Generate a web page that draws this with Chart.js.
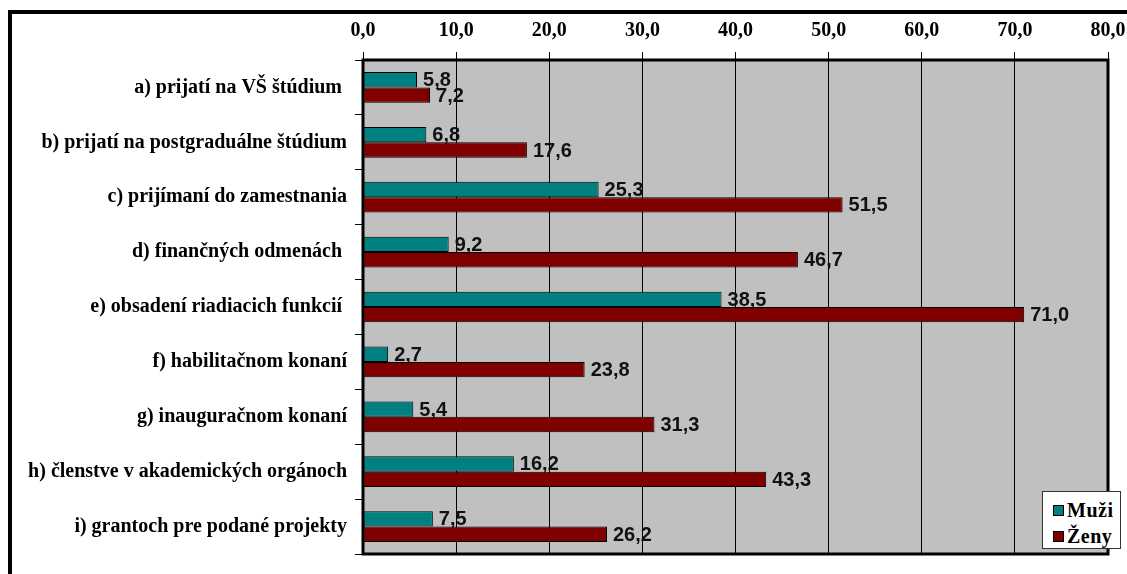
<!DOCTYPE html>
<html>
<head>
<meta charset="utf-8">
<script src="https://cdn.jsdelivr.net/npm/chart.js@4/dist/chart.umd.min.js"></script>
<style>
  body { margin: 0; background: #fff; overflow: hidden; }
  #frame { position: absolute; left: 8px; top: 10px; width: 1200px; height: 700px;
           border-top: 4px solid #000; border-left: 4px solid #000; }
  #wrap { position: absolute; left: 0; top: 0; width: 1127px; height: 574px; }
  #legend { position: absolute; left: 1042px; top: 491px; width: 79px; height: 58px;
            background: #fff; border: 1px solid #333;
            font: bold 20px "Liberation Serif", serif; padding: 5px 0 0 10px; box-sizing: border-box; }
  #legend div { height: 26px; line-height: 26px; white-space: nowrap; letter-spacing: 0.5px; }
  #legend span { display: inline-block; width: 9px; height: 9px; border: 1px solid #000; margin-right: 3px; vertical-align: 1px; }
</style>
</head>
<body>
<div id="frame"></div>
<div id="wrap"><canvas id="chart"></canvas></div>
<div id="legend"></div>
<script>
var categories = [
    'a) prijatí na VŠ štúdium ',
    'b) prijatí na postgraduálne štúdium',
    'c) prijímaní do zamestnania',
    'd) finančných odmenách ',
    'e) obsadení riadiacich funkcií ',
    'f) habilitačnom konaní',
    'g) inauguračnom konaní',
    'h) členstve v akademických orgánoch',
    'i) grantoch pre podané projekty'
];
var muzi = [5.8, 6.8, 25.3, 9.2, 38.5, 2.7, 5.4, 16.2, 7.5];
var zeny = [7.2, 17.6, 51.5, 46.7, 71.0, 23.8, 31.3, 43.3, 26.2];
var seriesNames = ['Muži', 'Ženy'];
var seriesColors = ['#008080', '#800000'];

function fmt(v) {
    return v.toFixed(1).replace('.', ',');
}

// pozadie a hrubý rámik plochy grafu
var plotBox = {
    id: 'plotBox',
    beforeDraw: function(chart) {
        var a = chart.chartArea, ctx = chart.ctx;
        ctx.save();
        ctx.fillStyle = '#c0c0c0';
        ctx.fillRect(a.left, a.top, a.right - a.left, a.bottom - a.top);
        ctx.restore();
    },
    afterDraw: function(chart) {
        var a = chart.chartArea, ctx = chart.ctx;
        ctx.save();
        ctx.strokeStyle = '#000';
        ctx.lineWidth = 3;
        ctx.strokeRect(a.left, a.top, a.right - a.left, a.bottom - a.top);
        ctx.restore();
    }
};

// hodnoty pri stĺpcoch
var valueLabels = {
    id: 'valueLabels',
    afterDatasetsDraw: function(chart) {
        var ctx = chart.ctx;
        ctx.save();
        ctx.font = 'bold 20px "Liberation Sans", Arial, sans-serif';
        ctx.fillStyle = '#111';
        ctx.textBaseline = 'middle';
        ctx.textAlign = 'left';
        chart.data.datasets.forEach(function(ds, i) {
            chart.getDatasetMeta(i).data.forEach(function(bar, j) {
                ctx.fillText(fmt(ds.data[j]), bar.x + 6, bar.y + 1);
            });
        });
        ctx.restore();
    }
};

var chart = new Chart(document.getElementById('chart'), {
    type: 'bar',
    data: {
        labels: categories,
        datasets: [
            { label: seriesNames[0], data: muzi, backgroundColor: seriesColors[0], borderColor: '#000', borderWidth: 1, borderSkipped: false },
            { label: seriesNames[1], data: zeny, backgroundColor: seriesColors[1], borderColor: '#000', borderWidth: 1, borderSkipped: false }
        ]
    },
    options: {
        indexAxis: 'y',
        responsive: true,
        maintainAspectRatio: false,
        animation: false,
        layout: { padding: { left: 8, top: 14, right: 19, bottom: 13 } },
        datasets: { bar: { categoryPercentage: 0.56, barPercentage: 1.0 } },
        plugins: {
            legend: { display: false },
            tooltip: { enabled: false }
        },
        scales: {
            x: {
                position: 'top',
                min: 0,
                max: 80,
                ticks: {
                    stepSize: 10,
                    padding: 9,
                    color: '#000',
                    font: { family: '"Liberation Serif", serif', size: 20, weight: 'bold' },
                    callback: function(v) { return fmt(v); }
                },
                grid: { color: '#000', lineWidth: 1, tickLength: 8 },
                border: { display: false },
                afterFit: function(scale) {
                    scale.height = 46;
                    scale.paddingLeft = 0;
                    scale.paddingRight = 0;
                }
            },
            y: {
                ticks: {
                    padding: 8,
                    color: '#000',
                    font: { family: '"Liberation Serif", serif', size: 20, weight: 'bold' }
                },
                grid: { offset: true, drawOnChartArea: false, color: '#000', tickLength: 8 },
                border: { display: false },
                afterFit: function(scale) { scale.width = 355; }
            }
        }
    },
    plugins: [plotBox, valueLabels]
});

// legenda
var legend = document.getElementById('legend');
chart.data.datasets.forEach(function(ds) {
    var row = document.createElement('div');
    row.innerHTML = '<span style="background:' + ds.backgroundColor + '"></span>' + ds.label;
    legend.appendChild(row);
});
</script>
</body>
</html>
